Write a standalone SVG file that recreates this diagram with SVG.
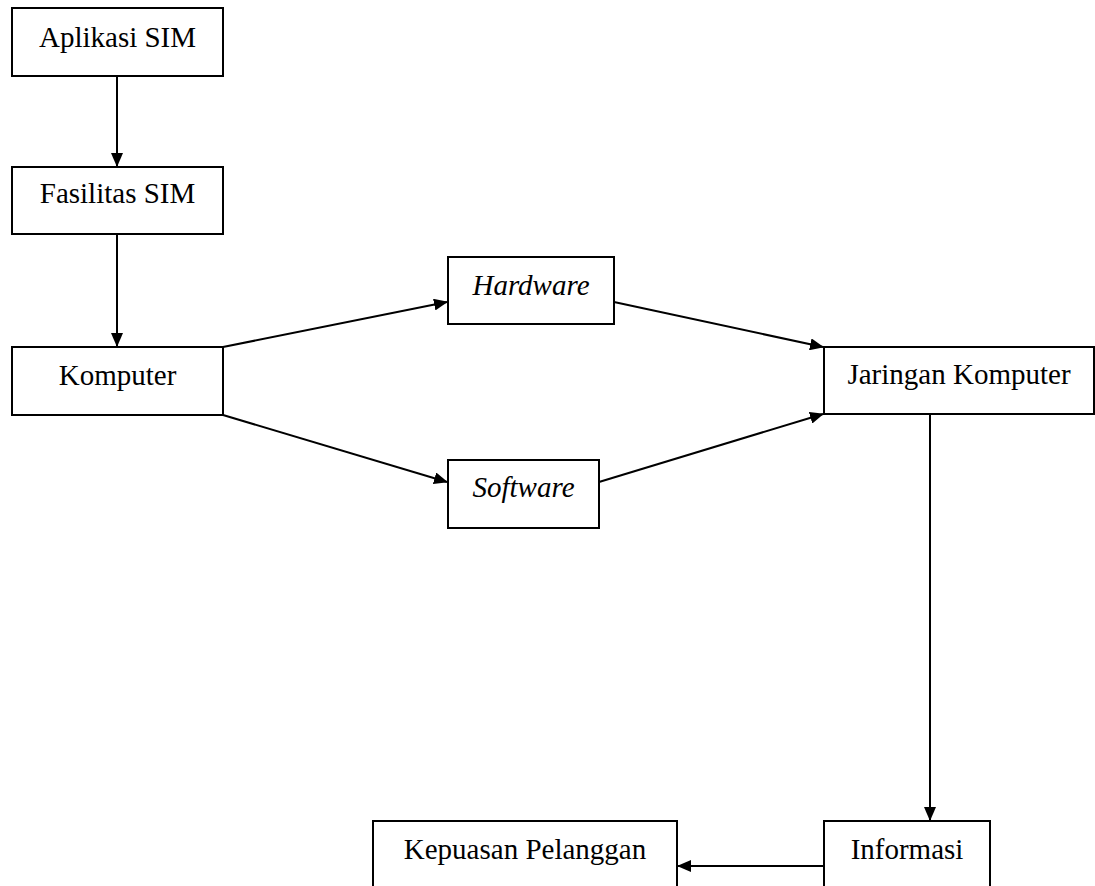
<svg xmlns="http://www.w3.org/2000/svg" width="1095" height="886" viewBox="0 0 1095 886">
<style>
.box{fill:#fff;stroke:#000;stroke-width:2}
.t{font-family:"Liberation Serif","Times New Roman",serif;font-size:29px;fill:#000;text-anchor:middle}
.i{font-style:italic}
.c{fill:none;stroke:#000;stroke-width:2;marker-end:url(#ah)}
</style>
<defs>
<marker id="ah" markerWidth="14" markerHeight="12" refX="13" refY="6" orient="auto" markerUnits="userSpaceOnUse">
<path d="M0,0 L14,6 L0,12 Z" fill="#000"/>
</marker>
</defs>
<rect width="1095" height="886" fill="#fff"/>
<g id="connectors">
<line class="c" x1="117" y1="76" x2="117" y2="166"/>
<line class="c" x1="117" y1="234" x2="117" y2="346"/>
<line class="c" x1="223" y1="347" x2="447" y2="302"/>
<line class="c" x1="223" y1="415" x2="447" y2="482"/>
<line class="c" x1="614" y1="302" x2="823" y2="347"/>
<line class="c" x1="599" y1="482" x2="823" y2="414"/>
<line class="c" x1="930" y1="414" x2="930" y2="820"/>
<line class="c" x1="824" y1="866" x2="678" y2="866"/>
</g>
<g id="aplikasi"><rect class="box" x="12" y="8" width="211" height="68"/><text class="t" x="117.5" y="47">Aplikasi SIM</text></g>
<g id="fasilitas"><rect class="box" x="12" y="167" width="211" height="67"/><text class="t" x="117.5" y="203">Fasilitas SIM</text></g>
<g id="komputer"><rect class="box" x="12" y="347" width="211" height="68"/><text class="t" x="117.5" y="385">Komputer</text></g>
<g id="hardware"><rect class="box" x="448" y="257" width="166" height="67"/><text class="t i" x="531" y="295">Hardware</text></g>
<g id="software"><rect class="box" x="448" y="460" width="151" height="68"/><text class="t i" x="523.5" y="497">Software</text></g>
<g id="jaringan"><rect class="box" x="824" y="347" width="270" height="67"/><text class="t" x="959" y="384">Jaringan Komputer</text></g>
<g id="informasi"><rect class="box" x="824" y="821" width="166" height="80"/><text class="t" x="907" y="859">Informasi</text></g>
<g id="kepuasan"><rect class="box" x="373" y="821" width="304" height="80"/><text class="t" x="525" y="859">Kepuasan Pelanggan</text></g>
</svg>
